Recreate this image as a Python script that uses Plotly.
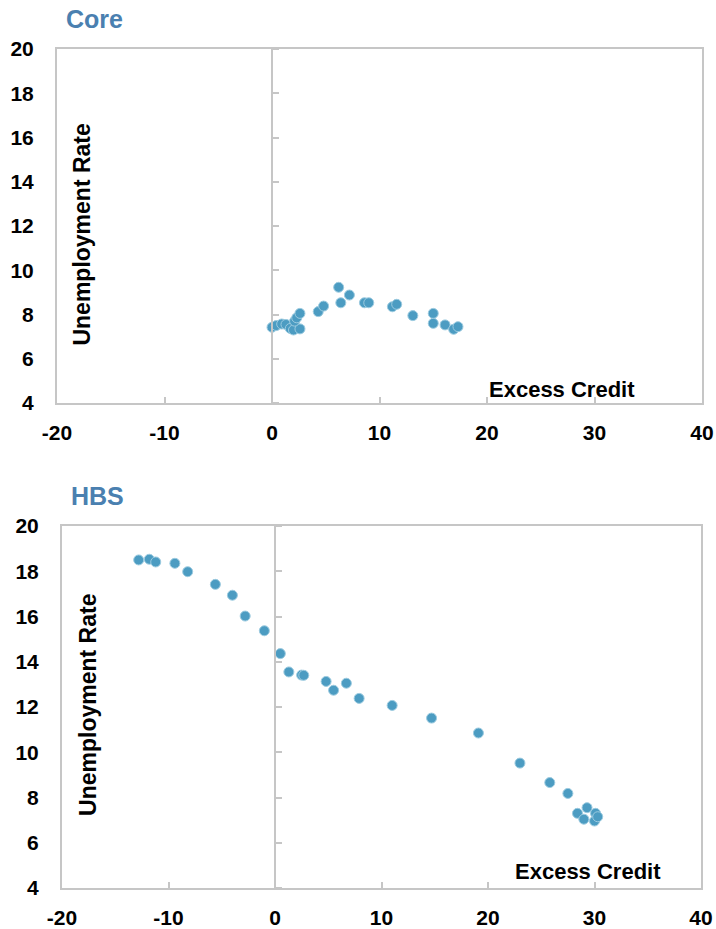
import plotly.graph_objects as go

# ---- data ----
core_x = [0.0, 0.4, 0.9, 1.3, 1.7, 2.0, 2.6, 2.1, 2.3, 2.6, 4.3, 4.8, 6.2, 6.4, 7.2,
          8.6, 9.0, 11.2, 11.6, 13.1, 15.0, 15.0, 16.1, 16.9, 17.3]
core_y = [7.42, 7.5, 7.57, 7.55, 7.37, 7.3, 7.35, 7.7, 7.85, 8.05, 8.13, 8.38, 9.23, 8.53, 8.88,
          8.53, 8.53, 8.35, 8.46, 7.95, 8.05, 7.6, 7.53, 7.33, 7.45]

hbs_x = [-12.8, -11.8, -11.2, -9.4, -8.2, -5.6, -4.0, -2.8, -1.0, 0.5, 1.3, 2.5, 2.7,
         4.8, 5.5, 6.7, 7.9, 11.0, 14.7, 19.1, 23.0, 25.8, 27.5, 28.4, 29.3, 29.0, 30.1, 30.0, 30.3]
hbs_y = [18.5, 18.53, 18.41, 18.35, 17.98, 17.42, 16.94, 16.02, 15.37, 14.36, 13.55, 13.41, 13.4,
         13.13, 12.74, 13.05, 12.38, 12.07, 11.51, 10.85, 9.52, 8.66, 8.18, 7.3, 7.55, 7.04, 7.3, 6.96, 7.15]

x_ticks = [-20, -10, 0, 10, 20, 30, 40]
x_tick_text = ["-20", "-10", "0", "10", "20", "30", "40"]
y_ticks = [4, 6, 8, 10, 12, 14, 16, 18, 20]
y_tick_text = ["4", "6", "8", "10", "12", "14", "16", "18", "20"]
titles = ["Core", "HBS"]
x_title = "Excess Credit"
y_title = "Unemployment Rate"

W, H = 716, 929
FONT = "Liberation Sans, Arial, sans-serif"
GRAY = "#c6c6c6"
BLUE_T = "#4a80b0"
MK = "#4c9cc2"

# pixel layout of the two panels: (left, right, top, bottom)
panels = [(57, 702, 49, 403), (62, 701, 526, 888)]

fig = go.Figure()
data = [(core_x, core_y), (hbs_x, hbs_y)]

layout = dict(width=W, height=H, margin=dict(l=0, r=0, t=0, b=0, autoexpand=False),
              paper_bgcolor="white", plot_bgcolor="white", showlegend=False,
              font=dict(family=FONT, color="black"))

tickfont = dict(size=21, family=FONT, color="black")
annotations = []
for i, ((l, r, t, b), (xs, ys)) in enumerate(zip(panels, data)):
    n = i + 1
    xa = "xaxis" if n == 1 else f"xaxis{n}"
    ya = "yaxis" if n == 1 else f"yaxis{n}"
    xr = "x" if n == 1 else f"x{n}"
    yr = "y" if n == 1 else f"y{n}"
    dom_x = [l / W, r / W]
    dom_y = [1 - b / H, 1 - t / H]
    fig.add_trace(go.Scatter(x=xs, y=ys, mode="markers", xaxis=xr, yaxis=yr,
                             marker=dict(size=10, color=MK, line=dict(color="#9ccbe0", width=1))))
    layout[xa] = dict(domain=dom_x, anchor=yr, range=[-20, 40], tickvals=x_ticks,
                      ticktext=[f"<b>{s}</b>" for s in x_tick_text], automargin=False,
                      showgrid=False, zeroline=False, showline=True, mirror=True,
                      linecolor=GRAY, linewidth=2, ticks="inside", ticklen=6,
                      tickcolor=GRAY, tickwidth=1.5, ticklabelstandoff=10, tickfont=tickfont)
    layout[ya] = dict(domain=dom_y, anchor=xr, range=[4, 20], tickvals=y_ticks,
                      ticktext=[f"<b>{s}</b>" for s in y_tick_text], automargin=False,
                      showgrid=False, zeroline=False, showline=True, mirror=True,
                      linecolor=GRAY, linewidth=2, ticks="", ticklabelstandoff=17, tickfont=tickfont)
    # vertical axis crossing at x = 0 with tick marks
    zero_frac = (0 - (-20)) / 60
    ya2 = f"yaxis{n + 2}"
    layout[ya2] = dict(overlaying=yr, anchor="free", automargin=False,
                       position=dom_x[0] + zero_frac * (dom_x[1] - dom_x[0]),
                       side="right", range=[4, 20], tickvals=y_ticks, showticklabels=False,
                       showgrid=False, zeroline=False, showline=True, linecolor=GRAY,
                       linewidth=2, ticks="outside", ticklen=6, tickcolor=GRAY, tickwidth=1.5)
    fig.add_trace(go.Scatter(x=[None], y=[None], xaxis=xr, yaxis=f"y{n + 2}",
                             hoverinfo="skip", showlegend=False))
    # titles
    annotations.append(dict(text=f"<b>{titles[i]}</b>", xref="paper", yref="paper",
                            x=(l + 7) / W, y=1 - (t - 30) / H, xanchor="left", yanchor="middle",
                            showarrow=False, font=dict(size=25, family=FONT, color=BLUE_T)))

xt_font = dict(size=22, family=FONT, color="black")
yt_font = dict(size=23, family=FONT, color="black")
annotations += [
    dict(text=f"<b>{x_title}</b>", xref="x", yref="y", x=27.0, y=4.59, showarrow=False,
         xanchor="center", yanchor="middle", font=xt_font),
    dict(text=f"<b>{x_title}</b>", xref="x2", yref="y2", x=29.4, y=4.71, showarrow=False,
         xanchor="center", yanchor="middle", font=xt_font),
    dict(text=f"<b>{y_title}</b>", xref="x", yref="y", x=-17.7, y=11.6, showarrow=False,
         textangle=-90, xanchor="center", yanchor="middle", font=yt_font),
    dict(text=f"<b>{y_title}</b>", xref="x2", yref="y2", x=-17.56, y=12.09, showarrow=False,
         textangle=-90, xanchor="center", yanchor="middle", font=yt_font),
]
layout["annotations"] = annotations
fig.update_layout(**layout)
fig.write_html("out.html")
